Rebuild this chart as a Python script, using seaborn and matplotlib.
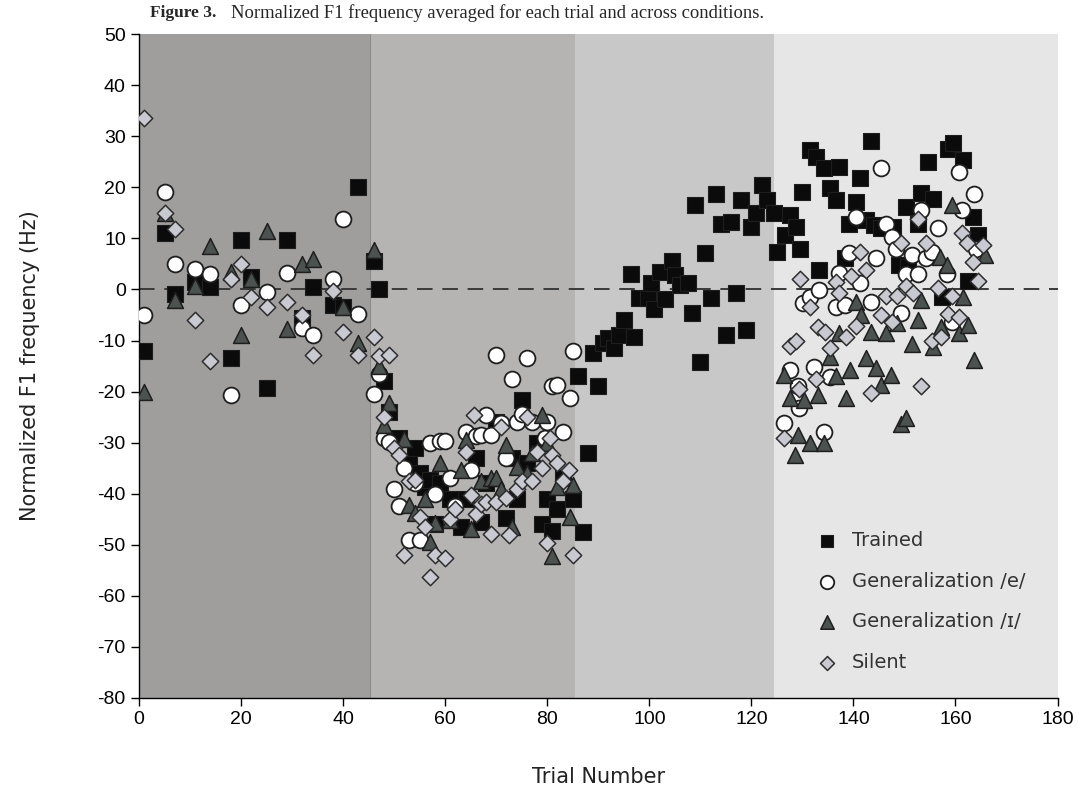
"""Normalized F1 frequency per trial, four conditions"""

import matplotlib
matplotlib.use('Agg')
import matplotlib.pyplot as plt
import seaborn as sns

# trained words (squares)
trained_trial = [1, 5, 7, 11, 14, 18, 20, 22, 25, 29, 32, 34, 38, 40, 43, 46, 47, 48, 49,
                 51, 53, 54, 55, 56, 57, 58, 59, 61, 63, 64, 66, 67, 68, 70, 72, 73, 74, 75,
                 76, 78, 79, 80, 81, 82, 83, 85, 86, 87, 88, 89, 90, 91, 92, 93, 94, 95, 96.5,
                 97, 98, 99.7, 100.3, 101, 102, 103, 104.5, 105, 106, 107.5, 108.4, 109, 110,
                 111, 112, 113, 114, 115, 116, 117, 118, 119, 120, 121, 122, 123, 124.5, 125,
                 126.5, 127.5, 128.8, 129.5, 130, 131.4, 132.6, 133.2, 134.3, 135.4, 136.6,
                 137.2, 138.3, 139.2, 140.5, 141.2, 142.5, 143.4, 144.1, 145.4, 147.7, 149,
                 150.3, 150.6, 152.6, 153.2, 154.6, 155.5, 157.4, 158.5, 159.6, 161.4, 162.4,
                 163.5, 164.5]
trained_f1 = [-12, 11, -0.8, 1.5, 0.5, -13.5, 9.7, 2.5, -19.3, 9.7, -5.5, 0.5, -3, -3.5, 20,
              5.5, 0, -18, -24, -29, -34, -31, -36, -38.6, -37.3, -46, -38, -41, -46.5, -41,
              -33, -45.5, -38, -26, -44.8, -33, -41, -21.7, -34, -30, -46, -41, -47.4, -43,
              -37, -41, -17, -47.6, -32, -12.5, -19, -10.4, -9.6, -11.5, -8.9, -6, 3, -9.3,
              -1.6, -1.6, 1.2, -3.9, 3.5, -1.9, 5.6, 2.8, 0.9, 1.2, -4.6, 16.5, -14.3, 7.1,
              -1.6, 18.7, 12.8, -8.9, 13.3, -0.6, 17.5, -7.9, 12.2, 15, 20.4, 17.5, 15, 7.4,
              10.6, 14.6, 12.3, 8, 19, 27.3, 26, 3.8, 23.7, 19.8, 17.5, 24, 6.1, 12.9, 17.2,
              21.9, 13.6, 29.1, 12.6, 12, 12.2, 4.8, 16.1, 4.4, 12.9, 18.8, 25, 17.8, -1.4,
              27.6, 28.6, 25.3, 1.7, 14.2, 10.6]

# generalization /e/ (circles)
gen_e_trial = [1, 5, 7, 11, 14, 18, 20, 25, 29, 32, 34, 38, 40, 43, 46, 47, 48, 49, 50, 51,
               52, 53, 54, 55, 57, 58, 59, 60, 61, 62, 64, 65, 66, 67, 68, 69, 70, 71, 72,
               73, 74, 75, 76, 77, 79.5, 80, 81, 82, 83, 84.4, 85, 126.3, 127.5, 128.5,
               129.1, 129.3, 130.1, 131.4, 132.3, 133.2, 134.3, 135.4, 136.6, 137.2, 138.4,
               139.2, 140.5, 141.2, 143.4, 144.4, 145.4, 146.4, 147.5, 148.3, 149.3, 150.3,
               151.5, 152.6, 153.2, 154.2, 155.4, 156.5, 158.4, 159.4, 160.6, 161.2, 163.6,
               164]
gen_e_f1 = [-5, 19, 5, 4, 3, -20.7, -3, -0.5, 3.2, -7.5, -9, 2, 13.7, -4.9, -20.5, -16.5,
            -29, -29.8, -39, -42.5, -35, -49, -38, -49, -30, -40, -29.6, -29.6, -37, -42.5,
            -28, -35.4, -28.8, -28.5, -24.5, -28.5, -12.8, -26.2, -33, -17.6, -26, -24.3,
            -13.5, -26, -29, -26, -19, -18.7, -28, -21.3, -12, -26.2, -15.8, -21.5, -19,
            -23.3, -2.7, -1.4, -15.1, -0.1, -28, -17.1, -3.4, 3.2, -3.1, 7.1, 14.2, 1.2, -2.4,
            6.1, 23.7, 12.8, 10.3, 8, -4.6, 3, 6.7, 3, 15.5, 6.1, 7.4, 12, 3, -6.3, 23, 15.5,
            18.7, 8]

# generalization /ɪ/ (triangles)
gen_i_trial = [1, 5, 7, 11, 14, 18, 20, 22, 25, 29, 32, 34, 40, 43, 46, 47, 48, 49, 52, 53,
               54, 56, 57, 58, 59, 61, 63, 64, 65, 67, 69, 70, 71, 72, 73, 74, 76, 77, 79, 80,
               81, 82, 84.4, 85, 126.3, 127.5, 128.5, 129.1, 130.4, 131.4, 133, 134.3, 135.4,
               136.6, 137.2, 138.5, 139.3, 140.5, 141.5, 142.4, 143.4, 144.4, 145.4, 146.4,
               147.4, 148.6, 149.3, 150.3, 151.5, 152.6, 153.2, 155.5, 156.9, 157.2, 158.4,
               159.4, 160.6, 161.4, 162.4, 163.6, 165.7]
gen_i_f1 = [-20, 15, -2, 0.7, 8.5, 3.5, -9, 2, 11.5, -7.8, 5, 6, -3.5, -10.4, 7.7, -15, -26.5,
            -22.3, -29.3, -42.2, -43.8, -41, -49.4, -45.8, -34, -45.2, -35.4, -29.5, -47,
            -37.5, -37, -37, -39, -30.5, -46.5, -34.7, -36, -32, -24.6, -30, -52.3, -38.6,
            -44.5, -38.3, -16.8, -21.3, -32.4, -28.5, -21.7, -30, -20.7, -30, -13.2, -17,
            -8.6, -21.3, -15.8, -2.4, -5, -13.5, -8.3, -15.4, -18.7, -8.6, -16.8, -6.6,
            -26.3, -25.2, -10.7, -5.9, -2.1, -11.2, 6.4, -7.3, 4.8, 16.5, -8.6, -1.4, -7,
            -13.8, 6.7]

# silent (diamonds)
silent_trial = [1, 5, 7, 11, 14, 18, 20, 22, 25, 29, 32, 34, 38, 40, 43, 46, 47, 48, 49, 50,
                51, 52, 53, 54, 55, 56, 57, 58, 60, 61, 62, 64, 65, 65.6, 66, 67, 68, 69, 70,
                71, 72, 72.5, 74, 75, 76, 77, 78, 79, 80, 80.5, 81, 82, 83, 84.3, 85, 126.3,
                127.5, 128.7, 129.3, 129.6, 131.4, 132.6, 133, 134.5, 135.4, 136.6, 137.2,
                138.5, 139.5, 140.5, 141.2, 142.4, 143.4, 145.4, 146.4, 147.5, 148.6, 149.3,
                150.3, 151.6, 152.6, 153.2, 154.2, 155.4, 156.5, 157.2, 158.5, 159.4, 160.6,
                161.2, 162.3, 163.5, 164.5, 165.4]
silent_f1 = [33.5, 15, 11.8, -6, -14, 2, 5, -1.5, -3.5, -2.4, -5, -12.8, -0.3, -8.4, -12.8,
             -9.3, -13, -25, -12.8, -31, -32.4, -52, -37.6, -37.3, -44.5, -46.5, -56.3, -52,
             -52.6, -45, -43, -31.8, -40.3, -24.5, -44, -42, -41.6, -47.8, -41.6, -27, -40.9,
             -48.1, -39, -37.6, -25, -37.6, -31.8, -35, -49.7, -29, -32.4, -34, -37.6, -35.4,
             -52, -29, -11.1, -10, -19.4, 2, -3.5, -17.6, -7.4, -8.3, -11.5, 1.5, -0.6, -9.4,
             2.6, -7.2, 7.4, 3.8, -20.2, -5, -1.3, -6.3, -1.3, 9.1, 0.7, -0.6, 13.7, -19, 9.1,
             -10, 0.2, -9.3, -4.8, -1.3, -5.3, 11.1, 9.1, 5.4, 1.7, 8.7]

# phase boundaries (trial numbers) and shades
phase_edges = [0, 45.3, 85.5, 124.4, 180]
phase_colors = ['#9f9e9d', '#b5b4b3', '#c9c8c8', '#e6e6e6']

sns.set_style('ticks')
plt.rcParams['font.family'] = ['DejaVu Sans']
plt.rcParams['axes.unicode_minus'] = False

fig = plt.figure(figsize=(10.78, 7.94), dpi=100)
ax = fig.add_axes([0.129, 0.121, 0.852, 0.836])

for left, right, shade in zip(phase_edges[:-1], phase_edges[1:], phase_colors):
    ax.axvspan(left, right, color=shade, lw=0, zorder=0)
ax.axvline(phase_edges[1], color='#8c8c8c', lw=0.8, zorder=0.5)
ax.axhline(0, color='#3a3a3a', lw=1.4, ls=(0, (8, 5)), zorder=1)

edge = '#1e1e1e'
sns.scatterplot(x=trained_trial, y=trained_f1, marker='s', s=120, color='#0b0b0b',
                edgecolor=edge, linewidth=0.8, ax=ax, label='Trained', zorder=3)
sns.scatterplot(x=gen_e_trial, y=gen_e_f1, marker='o', s=130, color='white',
                edgecolor=edge, linewidth=1.3, ax=ax, label='Generalization /e/', zorder=4)
sns.scatterplot(x=gen_i_trial, y=gen_i_f1, marker='^', s=130, color='#4b5250',
                edgecolor=edge, linewidth=1.1, ax=ax, label='Generalization /ɪ/', zorder=5)
sns.scatterplot(x=silent_trial, y=silent_f1, marker='D', s=70, color='#c9c9d1',
                edgecolor='#2e2e2e', linewidth=1.1, ax=ax, label='Silent', zorder=6)

ax.set_xlim(0, 180)
ax.set_ylim(-80, 50)
ax.set_xticks(range(0, 181, 20))
ax.set_yticks(range(-80, 51, 10))
ax.tick_params(direction='out', length=6, width=1, colors='black')
for label in ax.get_xticklabels() + ax.get_yticklabels():
    label.set_family(['Liberation Sans', 'DejaVu Sans'])
    label.set_fontsize(14)
sns.despine(ax=ax)
for side in ['left', 'bottom']:
    ax.spines[side].set_color('black')
    ax.spines[side].set_linewidth(1)

ax.set_xlabel('Trial Number', fontsize=15, color='#222222')
ax.set_ylabel('Normalized F1 frequency (Hz)', fontsize=15, color='#222222')
ax.xaxis.set_label_coords(0.5, -0.104)
ax.yaxis.set_label_coords(-0.108, 0.5)

ax.legend(loc='upper left', bbox_to_anchor=(0.717, 0.278), frameon=False,
          fontsize=14, labelspacing=1.12, handlelength=1.2, handletextpad=0.7,
          markerscale=0.85, labelcolor='#333333')

fig.text(0.139, 0.983, 'Figure 3.', fontsize=12.5, family='Liberation Serif',
         fontweight='bold', va='center')
fig.text(0.214, 0.983, 'Normalized F1 frequency averaged for each trial and across conditions.',
         fontsize=13.4, family='Liberation Serif', va='center')

fig.savefig('out.png', dpi=100)
